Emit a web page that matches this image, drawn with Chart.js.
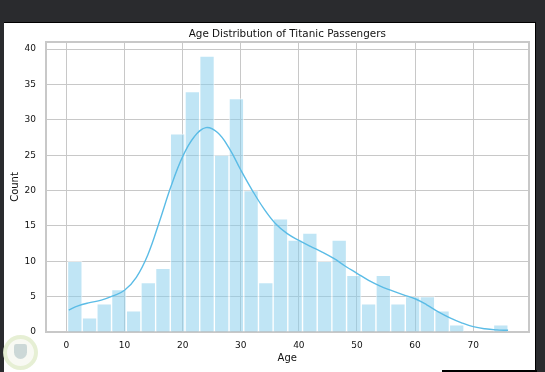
<!DOCTYPE html>
<html>
<head>
<meta charset="utf-8">
<script src="https://cdn.jsdelivr.net/npm/chart.js@4"></script>
<style>
html, body { margin: 0; height: 100%; background: #2a2b2e; overflow: hidden; }
#panel { position: absolute; left: 4px; top: 22px; width: 532px; height: 350px; background: #fff; border-top: 1px solid #000; border-right: 1px solid #000; box-sizing: border-box; }
#strip { position: absolute; left: 442px; top: 370px; width: 95px; height: 2px; background: #000; }
#stamp { position: absolute; left: 3px; top: 335px; width: 27px; height: 27px; border: 4px solid rgba(222, 233, 198, .7); border-radius: 50%; background: rgba(245, 247, 238, .7); }
#leaf { position: absolute; left: 7px; top: 5px; width: 13px; height: 15px; border-radius: 3px 3px 8px 8px; background: rgba(190, 205, 205, .75); }
#wrap { position: absolute; left: 4px; top: 22px; width: 532px; height: 350px; }
</style>
</head>
<body>
<div id="panel"></div>
<div id="strip"></div>
<div id="wrap"><canvas id="myChart"></canvas></div>
<div id="stamp"><div id="leaf"></div></div>
<script>
const binCenters = [1.45, 3.98, 6.5, 9.03, 11.56, 14.09, 16.61, 19.14, 21.67, 24.2, 26.72, 29.25, 31.78, 34.31, 36.83, 39.36, 41.89, 44.42, 46.94, 49.47, 52, 54.53, 57.05, 59.58, 62.11, 64.64, 67.16, 69.69, 72.22, 74.75];
const counts = [10, 2, 4, 6, 3, 7, 9, 28, 34, 39, 25, 33, 20, 7, 16, 13, 14, 10, 13, 8, 4, 8, 4, 5, 5, 3, 1, 0, 0, 1];
const kdeAges = [0.4, 2, 4, 6, 8, 10, 12, 14, 16, 18, 20, 22, 24, 26, 28, 30, 32, 34, 36, 38, 40, 42, 44, 46, 48, 50, 52, 54, 56, 58, 60, 62, 64, 66, 68, 70, 72, 74, 76];
const kdeValues = [3.1, 3.7, 4.15, 4.5, 5.1, 5.9, 7.7, 10.9, 15.6, 20.6, 24.8, 27.6, 28.9, 28.2, 26, 22.9, 20, 17.4, 15.3, 13.9, 12.95, 12.1, 11.3, 10.4, 9.3, 8.3, 7.3, 6.5, 5.85, 5.25, 4.7, 3.85, 2.85, 2, 1.3, 0.75, 0.45, 0.3, 0.24];

const FONT = 'DejaVu Sans';
const GRID = '#c8c8c8';
const ctx = document.getElementById('myChart');

new Chart(ctx, {
  type: 'bar',
  data: {
    datasets: [{
      type: 'line',
      data: kdeAges.map((a, i) => ({ x: a, y: kdeValues[i] })),
      borderColor: '#5bbce6',
      borderWidth: 1.4,
      pointRadius: 0,
      tension: 0.4,
      fill: false,
      order: 0
    }, {
      data: binCenters.map((c, i) => ({ x: c, y: counts[i] })),
      backgroundColor: 'rgba(135, 206, 235, 0.52)',
      borderColor: 'rgba(255, 255, 255, 0.55)',
      borderWidth: 1,
      barPercentage: 1,
      categoryPercentage: 1,
      order: 1
    }]
  },
  options: {
    responsive: true,
    maintainAspectRatio: false,
    animation: false,
    layout: { padding: { left: 5, right: 7, top: 3, bottom: 8 } },
    plugins: {
      legend: { display: false },
      tooltip: { enabled: false }
    },
    scales: {
      x: {
        type: 'linear',
        offset: false,
        min: -3.6,
        max: 79.6,
        afterFit: s => { s.height = 32; },
        grid: { offset: false, color: GRID, lineWidth: 1, drawTicks: false },
        border: { color: GRID, width: 2 },
        ticks: { stepSize: 10, includeBounds: false, maxRotation: 0, color: '#111', padding: 8, font: { family: FONT, size: 9 } },
        title: { display: true, text: 'Age', color: '#111', padding: { top: -1, bottom: 0 }, font: { family: FONT, size: 10 } }
      },
      // top and right axes only close the frame; the top one also carries the title
      xTop: {
        type: 'linear',
        position: 'top',
        offset: false,
        min: -3.6,
        max: 79.6,
        afterFit: s => { s.height = 17; },
        grid: { display: false },
        border: { color: GRID, width: 2 },
        ticks: { display: false },
        title: { display: true, text: 'Age Distribution of Titanic Passengers', color: '#111', padding: { top: 3, bottom: 0 }, font: { family: FONT, size: 10.4 } }
      },
      y: {
        min: 0,
        max: 41,
        afterFit: s => { s.width = 36.5; },
        grid: { color: GRID, lineWidth: 1, drawTicks: false },
        border: { color: GRID, width: 2 },
        ticks: { stepSize: 5, includeBounds: false, color: '#111', padding: 9.5, font: { family: FONT, size: 9 } },
        title: { display: true, text: 'Count', color: '#111', padding: { top: 0, bottom: 0 }, font: { family: FONT, size: 10 } }
      },
      yRight: {
        position: 'right',
        min: 0,
        max: 41,
        afterFit: s => { s.width = 0; },
        grid: { display: false },
        border: { color: GRID, width: 2 },
        ticks: { display: false }
      }
    }
  }
});
</script>
</body>
</html>
